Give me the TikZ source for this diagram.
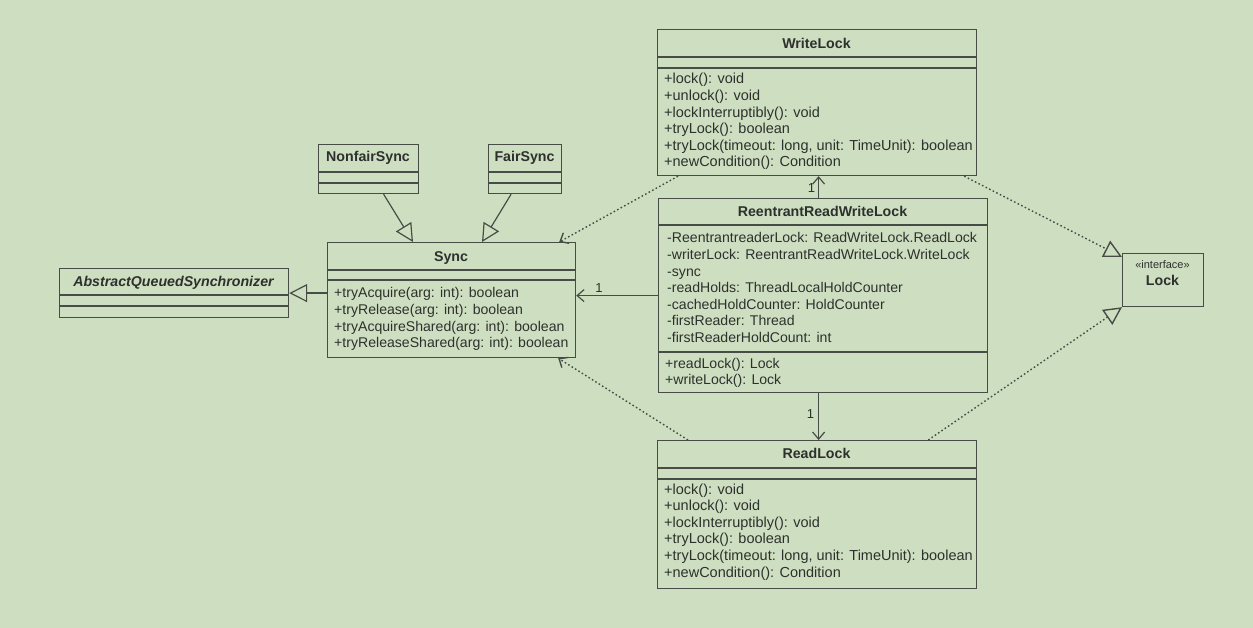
\documentclass[tikz,border=0pt]{standalone}
\usepackage{fontspec}
\setmainfont{Liberation Sans}
\usetikzlibrary{arrows.meta,calc}
\definecolor{bg}{RGB}{206,223,193}
\definecolor{ln}{RGB}{72,76,70}
\definecolor{tx}{RGB}{45,48,45}
\newcommand\classrows[4]{%
  \foreach \t [count=\i] in {#4} {\node[row] (#1-\i) at ({#2},{#3+16.6*(\i-1)}) {\t};}}
\begin{document}
\begin{tikzpicture}[x=1pt,y=-1pt,
  box/.style={draw=ln,line width=1.2pt,inner sep=0,anchor=north west},
  sepl/.style={draw=ln,line width=1.2pt},
  row/.style={anchor=base west,inner sep=0,text=tx,font=\fontsize{14.5}{16}\selectfont},
  srow/.style={row,font=\fontsize{14.1}{16}\selectfont},
  ctitle/.style={anchor=base,inner sep=0,text=tx,font=\bfseries\fontsize{14.2}{16}\selectfont},
  gen/.style={draw=ln,line width=1.2pt,-{Triangle[open,length=18pt,width=18pt]}},
  real/.style={draw=ln,line width=1.4pt,dash pattern=on 1.6pt off 2.4pt,-{Triangle[open,length=18pt,width=18pt]}},
  assoc/.style={draw=ln,line width=1.2pt,-{Straight Barb[length=7pt,width=12pt]}},
  dep/.style={draw=ln,line width=1.4pt,dash pattern=on 1.6pt off 2.4pt,-{Straight Barb[length=7pt,width=12pt]}},
  mult/.style={text=tx,inner sep=2pt,font=\fontsize{13}{14}\selectfont}]
\fill[bg] (0,0) rectangle (1253,628);
\useasboundingbox (0,0) rectangle (1253,628);

% WriteLock
\node[box,minimum width=319pt,minimum height=146pt] (wl) at (657,29) {};
\draw[sepl] ($(wl.north west)+(0,28)$) -- ($(wl.north east)+(0,28)$);
\draw[sepl] ($(wl.north west)+(0,39)$) -- ($(wl.north east)+(0,39)$);
\node[ctitle] (wl-t) at (816.5,48.5) {WriteLock};
\classrows{wl}{664}{84}{+lock(): void,+unlock(): void,+lockInterruptibly(): void,+tryLock(): boolean,{+tryLock(timeout: long, unit: TimeUnit): boolean},+newCondition(): Condition}

% ReentrantReadWriteLock
\node[box,minimum width=329pt,minimum height=194pt] (rrwl) at (658,198) {};
\draw[sepl] ($(rrwl.north west)+(0,27)$) -- ($(rrwl.north east)+(0,27)$);
\draw[sepl] ($(rrwl.north west)+(0,154)$) -- ($(rrwl.north east)+(0,154)$);
\node[ctitle] (rrwl-t) at (822.5,217) {ReentrantReadWriteLock};
\begin{scope}[row/.style={anchor=base west,inner sep=0,text=tx,font=\fontsize{14.1}{16}\selectfont}]
\classrows{rrwla}{667}{243}{-ReentrantreaderLock: ReadWriteLock.ReadLock,-writerLock: ReentrantReadWriteLock.WriteLock,-sync,-readHolds: ThreadLocalHoldCounter,-cachedHoldCounter: HoldCounter,-firstReader: Thread,-firstReaderHoldCount: int}
\classrows{rrwlm}{665}{368}{+readLock(): Lock,+writeLock(): Lock}
\end{scope}

% ReadLock
\node[box,minimum width=319pt,minimum height=148pt] (rl) at (657,440) {};
\draw[sepl] ($(rl.north west)+(0,28)$) -- ($(rl.north east)+(0,28)$);
\draw[sepl] ($(rl.north west)+(0,39)$) -- ($(rl.north east)+(0,39)$);
\node[ctitle] (rl-t) at (816.5,458) {ReadLock};
\classrows{rl}{664}{494}{+lock(): void,+unlock(): void,+lockInterruptibly(): void,+tryLock(): boolean,{+tryLock(timeout: long, unit: TimeUnit): boolean},+newCondition(): Condition}

% Sync
\node[box,minimum width=248pt,minimum height=115pt] (sync) at (327,242) {};
\draw[sepl] ($(sync.north west)+(0,28)$) -- ($(sync.north east)+(0,28)$);
\draw[sepl] ($(sync.north west)+(0,38)$) -- ($(sync.north east)+(0,38)$);
\node[ctitle] (sync-t) at (451,262) {Sync};
\begin{scope}[row/.style={anchor=base west,inner sep=0,text=tx,font=\fontsize{14.1}{16}\selectfont}]
\classrows{sync}{334}{298}{+tryAcquire(arg: int): boolean,+tryRelease(arg: int): boolean,+tryAcquireShared(arg: int): boolean,+tryReleaseShared(arg: int): boolean}
\end{scope}

% NonfairSync
\node[box,minimum width=100pt,minimum height=49pt] (nf) at (318,144) {};
\draw[sepl] ($(nf.north west)+(0,28)$) -- ($(nf.north east)+(0,28)$);
\draw[sepl] ($(nf.north west)+(0,39)$) -- ($(nf.north east)+(0,39)$);
\node[ctitle] (nf-t) at (368,162) {NonfairSync};

% FairSync
\node[box,minimum width=73pt,minimum height=49pt] (fs) at (488,144) {};
\draw[sepl] ($(fs.north west)+(0,28)$) -- ($(fs.north east)+(0,28)$);
\draw[sepl] ($(fs.north west)+(0,39)$) -- ($(fs.north east)+(0,39)$);
\node[ctitle] (fs-t) at (524.5,162) {FairSync};

% AbstractQueuedSynchronizer
\node[box,minimum width=229pt,minimum height=49pt] (aqs) at (59,268) {};
\draw[sepl] ($(aqs.north west)+(0,27)$) -- ($(aqs.north east)+(0,27)$);
\draw[sepl] ($(aqs.north west)+(0,38)$) -- ($(aqs.north east)+(0,38)$);
\node[ctitle,font=\bfseries\itshape\fontsize{14.2}{16}\selectfont] (aqs-t) at (173.5,287) {AbstractQueuedSynchronizer};

% Lock interface
\node[box,minimum width=81pt,minimum height=53pt] (lock) at (1122,253) {};
\node[anchor=base,inner sep=0,text=tx,font=\fontsize{11}{12}\selectfont] (lock-s) at (1162.5,269) {«interface»};
\node[ctitle] (lock-t) at (1162.5,286) {Lock};

% generalizations
\draw[gen] ($(nf.south)+(15,0)$) -- ($(sync.north west)+(86,0)$);
\draw[gen] ($(fs.south)+(-14,0)$) -- ($(sync.north west)+(155,0)$);
\draw[gen] (sync.west |- aqs.east) -- (aqs.east);

% associations
\draw[assoc] (rrwl.west) -- (sync.east |- rrwl.west) node[mult,pos=0.72,above] (m1) {1};
\coordinate (a1) at ($(rrwl.north)+(-4.5,0)$);
\draw[assoc] (a1) -- (a1 |- wl.south) node[mult,pos=0.45,left,inner sep=3pt] (m2) {1};
\coordinate (a2) at ($(rrwl.south)+(-4.5,0)$);
\draw[assoc] (a2) -- (a2 |- rl.north) node[mult,pos=0.44,left,inner sep=4pt] (m3) {1};

% dependencies
\draw[dep] ($(wl.south west)+(21,0)$) -- ($(sync.north east)+(-17,0)$);
\draw[dep] ($(rl.north west)+(31,0)$) -- ($(sync.south east)+(-18,0)$);

% realizations
\draw[real] ($(wl.south east)+(-13,0)$) -- ($(lock.north west)+(0,4)$);
\draw[real] ($(rl.north east)+(-49,0)$) -- (lock.south west);
\end{tikzpicture}
\end{document}
